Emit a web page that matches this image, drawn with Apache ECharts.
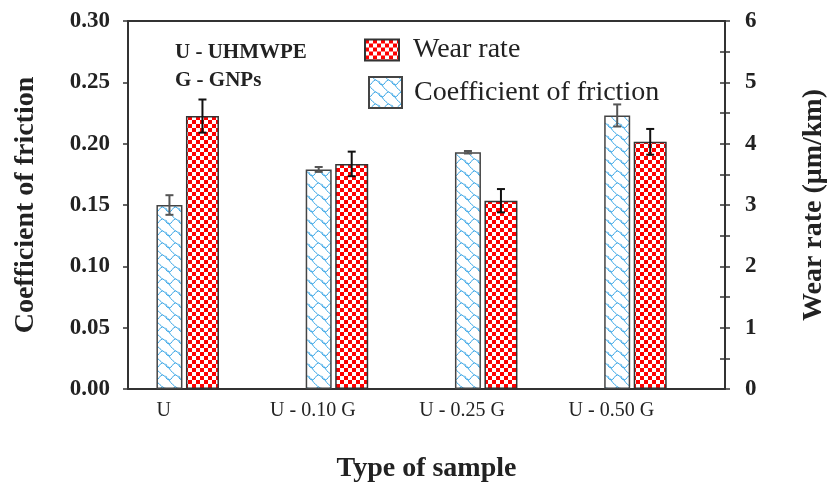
<!DOCTYPE html>
<html>
<head>
<meta charset="utf-8">
<script src="https://cdn.jsdelivr.net/npm/echarts@6/dist/echarts.min.js"></script>
<style>
  html, body { margin: 0; background: #fff; }
  #chart { width: 829px; height: 490px; }
</style>
</head>
<body>
<div id="chart"></div>
<script>
const categories = ['U', 'U - 0.10 G', 'U - 0.25 G', 'U - 0.50 G'];
const cofValues = [0.150, 0.179, 0.193, 0.223];
const cofErrors = [0.008, 0.002, 0.001, 0.009];
const wearValues = [4.45, 3.67, 3.07, 4.03];
const wearErrors = [0.27, 0.20, 0.19, 0.21];

const FONT = "'Liberation Serif', 'Times New Roman', serif";
const INK = '#222';
const COF_W = 26, WEAR_W = 33, GAP = 0.135;

// fill patterns
function checkerPattern() {
  const c = document.createElement('canvas');
  c.width = 8; c.height = 8;
  const g = c.getContext('2d');
  g.fillStyle = '#fff'; g.fillRect(0, 0, 8, 8);
  g.fillStyle = '#ff0000';
  g.fillRect(0, 0, 4, 4); g.fillRect(4, 4, 4, 4);
  return c;
}
function wavePattern() {
  const c = document.createElement('canvas');
  c.width = 13; c.height = 12;
  const g = c.getContext('2d');
  g.fillStyle = '#fff'; g.fillRect(0, 0, 13, 12);
  g.strokeStyle = '#3aa6e6'; g.lineWidth = 1;
  g.beginPath();
  // wavy row
  g.moveTo(0, 8); g.bezierCurveTo(3, 8, 3.5, 3, 6.5, 3); g.bezierCurveTo(9.5, 3, 10, 8, 13, 8);
  // curl from the crest up to the row above
  g.moveTo(6.5, 3); g.bezierCurveTo(5, 1, 2, 0, 0, -4);
  g.moveTo(6.5, 15); g.bezierCurveTo(5, 13, 2, 12, 0, 8);
  g.moveTo(13, 8); g.bezierCurveTo(12, 6, 10, 5, 9.5, 3.8);
  g.stroke();
  return c;
}

// bar centre offsets, same arithmetic as the bar layout
const groupW = COF_W * (1 + GAP) + WEAR_W;
const cofOffset = -groupW / 2 + COF_W / 2;
const wearOffset = -groupW / 2 + COF_W * (1 + GAP) + WEAR_W / 2;

function errorSeries(name, values, errors, yAxisIndex, offset, color) {
  return {
    type: 'custom',
    name: name,
    xAxisIndex: 0,
    yAxisIndex: yAxisIndex,
    z: 10,
    data: values.map((v, i) => [i + 1, v - errors[i], v + errors[i]]),
    renderItem: function (params, api) {
      const lo = api.coord([api.value(0), api.value(1)]);
      const hi = api.coord([api.value(0), api.value(2)]);
      const cx = lo[0] + offset, h = 4;
      const style = { stroke: color, lineWidth: 2 };
      return {
        type: 'group',
        children: [
          { type: 'line', shape: { x1: cx, y1: hi[1], x2: cx, y2: lo[1] }, style: style },
          { type: 'line', shape: { x1: cx - h, y1: hi[1], x2: cx + h, y2: hi[1] }, style: style },
          { type: 'line', shape: { x1: cx - h, y1: lo[1], x2: cx + h, y2: lo[1] }, style: style }
        ]
      };
    }
  };
}

const chart = echarts.init(document.getElementById('chart'));
const axisLine = { show: true, onZero: false, lineStyle: { color: '#333', width: 2 } };
chart.setOption({
  animation: false,
  title: {
    text: 'U - UHMWPE\nG - GNPs',
    left: 170, top: 34,
    textStyle: { fontFamily: FONT, fontSize: 21, fontWeight: 'bold', color: INK, lineHeight: 28 }
  },
  legend: [{
    data: ['Wear rate'],
    left: 359, top: 31,
    itemWidth: 34, itemHeight: 21,
    icon: 'rect',
    textStyle: { fontFamily: FONT, fontSize: 28, color: INK, padding: [0, 0, 0, 9] }
  }, {
    data: ['Coefficient of friction'],
    left: 363, top: 71,
    itemWidth: 33, itemHeight: 31,
    icon: 'rect',
    textStyle: { fontFamily: FONT, fontSize: 28, color: INK, padding: [0, 0, 0, 7] }
  }],
  grid: { left: 128, right: 104, top: 21, bottom: 101, outerBoundsMode: 'none', containLabel: false },
  xAxis: [{
    type: 'value', position: 'bottom', min: 0.6, max: 4.6,
    axisLine: axisLine, axisTick: { show: false }, axisLabel: { show: false }, splitLine: { show: false }
  }, {
    type: 'category', position: 'bottom', data: categories,
    axisLine: { show: false }, axisTick: { show: false },
    axisLabel: { fontFamily: FONT, fontSize: 20, color: INK, margin: 12, padding: [0, 78, 0, 0] },
    name: 'Type of sample', nameLocation: 'middle', nameGap: 66,
    nameTextStyle: { fontFamily: FONT, fontSize: 28, fontWeight: 'bold', color: INK }
  }, {
    type: 'value', position: 'top', min: 0.6, max: 4.6,
    axisLine: axisLine, axisTick: { show: false }, axisLabel: { show: false }, splitLine: { show: false }
  }],
  yAxis: [{
    type: 'value', position: 'left', min: 0, max: 0.3, interval: 0.05,
    axisLine: axisLine,
    axisTick: { show: true, length: 5, lineStyle: { color: '#333', width: 1.5 } },
    axisLabel: {
      fontFamily: FONT, fontSize: 23, fontWeight: 'bold', color: INK, margin: 18,
      formatter: v => v.toFixed(2)
    },
    splitLine: { show: false },
    name: 'Coefficient of friction', nameLocation: 'middle', nameGap: 88,
    nameTextStyle: { fontFamily: FONT, fontSize: 28, fontWeight: 'bold', color: INK }
  }, {
    type: 'value', position: 'right', min: 0, max: 6, interval: 0.5,
    axisLine: axisLine,
    axisTick: { show: true, length: 5, lineStyle: { color: '#333', width: 1.5 } },
    axisLabel: {
      fontFamily: FONT, fontSize: 23, fontWeight: 'bold', color: INK, margin: 20,
      formatter: v => (Number.isInteger(v) ? String(v) : '')
    },
    splitLine: { show: false },
    name: 'Wear rate (μm/km)', nameLocation: 'middle', nameGap: 75,
    nameTextStyle: { fontFamily: FONT, fontSize: 28, fontWeight: 'bold', color: INK }
  }, {
    type: 'value', position: 'right', min: 0, max: 6, interval: 0.5,
    axisLine: { show: false },
    axisTick: { show: true, inside: true, length: 5, lineStyle: { color: '#333', width: 1.5 } },
    axisLabel: { show: false }, splitLine: { show: false }
  }],
  series: [{
    type: 'bar', name: 'Coefficient of friction',
    xAxisIndex: 0, yAxisIndex: 0,
    data: cofValues.map((v, i) => [i + 1, v]),
    barWidth: COF_W, barGap: (GAP * 100) + '%',
    itemStyle: { color: { image: wavePattern(), repeat: 'repeat' }, borderColor: '#444', borderWidth: 1.5 }
  }, {
    type: 'bar', name: 'Wear rate',
    xAxisIndex: 0, yAxisIndex: 1,
    data: wearValues.map((v, i) => [i + 1, v]),
    barWidth: WEAR_W, barGap: (GAP * 100) + '%',
    itemStyle: { color: { image: checkerPattern(), repeat: 'repeat' }, borderColor: '#333', borderWidth: 1.5 }
  },
  errorSeries('cof-err', cofValues, cofErrors, 0, cofOffset, '#555'),
  errorSeries('wear-err', wearValues, wearErrors, 1, wearOffset, '#111')
  ]
});
</script>
</body>
</html>
